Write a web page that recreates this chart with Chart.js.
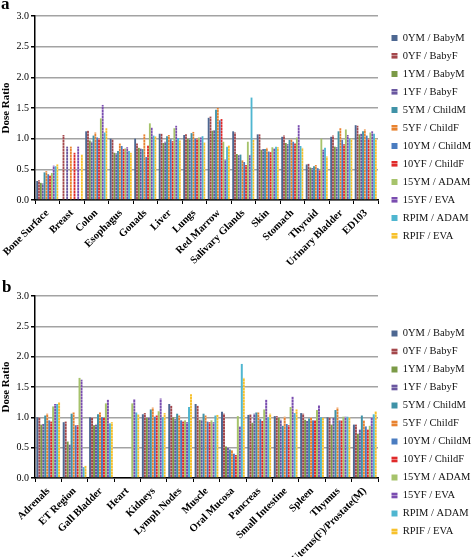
<!DOCTYPE html>
<html><head><meta charset="utf-8">
<script src="https://cdn.jsdelivr.net/npm/chart.js@4.4.1/dist/chart.umd.min.js"></script>
<style>
html,body{margin:0;padding:0;background:#fff;}
#wrap{position:relative;width:472px;height:557px;overflow:hidden;background:#fff;}
.panel{position:absolute;left:0;width:472px;}
#pa{top:0;height:278px;}
#pb{top:278px;height:279px;}
.lab{position:absolute;font-family:'Liberation Serif',serif;font-weight:bold;font-size:17px;line-height:1;color:#000;}
</style></head><body>
<div id="wrap">
<div class="panel" id="pa"><canvas id="ca" width="472" height="278"></canvas></div>
<div class="panel" id="pb"><canvas id="cb" width="472" height="279"></canvas></div>
<div class="lab" style="left:1px;top:-5px;">a</div>
<div class="lab" style="left:2px;top:278px;">b</div>
</div>
<script>
// Series (order in each group)
const seriesNames = ['0YM / BabyM','0YF / BabyF','1YM / BabyM','1YF / BabyF','5YM / ChildM','5YF / ChildF',
  '10YM / ChildM','10YF / ChildF','15YM / ADAM','15YF / EVA','RPIM / ADAM','RPIF / EVA'];
const seriesColors = ['#4d6791','#a4474b','#7b9a47','#6a57a0','#3f92a7','#e8822f',
  '#4a7cc0','#e02a2a','#a6c36b','#7a4db0','#4fb6d0','#f7c12c'];
const seriesPatterned = [false,true,false,true,false,true,false,true,false,true,false,true];

// Panel a
const categoriesA = ['Bone Surface','Breast','Colon','Esophagus','Gonads','Liver','Lungs','Red Marrow',
  'Salivary Glands','Skin','Stomach','Thyroid','Urinary Bladder','ED103'];
const boneSurface    = [0.31,0.32,0.28,0.27,0.45,0.47,0.42,0.40,0.44,0.56,0.55,0.58];
const breast         = [null,1.06,null,0.87,null,0.87,null,0.77,null,0.87,null,0.74];
const colon          = [1.12,1.13,0.97,0.95,1.05,1.10,1.02,1.00,1.33,1.55,1.10,1.17];
const esophagus      = [1.00,0.99,0.77,0.76,0.80,0.92,0.88,0.83,0.84,0.86,0.80,0.77];
const gonads         = [1.00,0.92,0.85,0.84,0.83,1.07,0.70,0.89,1.25,1.18,1.05,1.04];
const liver          = [1.08,1.08,0.93,0.95,1.04,1.06,0.99,0.96,1.17,1.21,1.01,0.97];
const lungs          = [1.06,1.07,1.00,1.00,1.09,1.11,1.00,1.00,1.02,1.02,1.04,0.94];
const redMarrow      = [1.34,1.36,1.13,1.14,1.47,1.50,1.30,1.32,0.95,0.66,0.87,0.89];
const salivaryGlands = [1.12,1.10,0.75,0.73,0.74,0.65,0.62,0.57,0.95,0.73,1.67,0.98];
const skin           = [1.07,1.07,0.82,0.83,0.83,0.85,0.79,0.78,0.86,0.84,0.87,0.86];
const stomach        = [1.03,1.05,0.93,0.91,0.98,0.99,0.95,0.92,1.02,1.22,0.88,0.85];
const thyroid        = [0.58,0.59,0.53,0.52,0.55,0.57,0.52,0.48,1.00,0.82,0.85,0.71];
const urinaryBladder = [1.03,1.05,0.87,0.86,1.12,1.17,0.98,0.91,1.15,1.06,1.00,1.00];
const ed103          = [1.22,1.21,1.07,1.08,1.12,1.15,1.05,1.00,1.10,1.12,1.08,1.00];
const rowsA = [boneSurface,breast,colon,esophagus,gonads,liver,lungs,redMarrow,salivaryGlands,skin,stomach,thyroid,urinaryBladder,ed103];

// Panel b
const categoriesB = ['Adrenals','ET Region','Gall Bladder','Heart','Kidneys','Lymph Nodes','Muscle','Oral Mucosa',
  'Pancreas','Small Intestine','Spleen','Thymus','Uterus(F)/Prostate(M)'];
const adrenals       = [1.00,1.00,0.88,0.89,1.03,1.06,0.95,0.93,1.18,1.22,1.22,1.25];
const etRegion       = [0.92,0.93,0.60,0.55,1.06,1.08,0.87,0.87,1.65,1.62,0.18,0.20];
const gallBladder    = [1.00,1.00,0.87,0.88,1.05,1.08,1.00,0.99,1.23,1.29,0.90,0.92];
const heart          = [null,null,null,null,null,null,null,null,1.23,1.30,1.08,1.05];
const kidneys        = [1.05,1.07,0.99,1.00,1.13,1.16,1.01,1.03,1.10,1.31,1.00,1.07];
const lymphNodes     = [1.22,1.19,1.00,0.97,1.06,1.03,0.95,0.93,0.95,0.92,1.17,1.38];
const muscle         = [1.22,1.19,0.96,0.96,1.06,1.03,0.93,0.92,0.95,0.92,1.03,1.04];
const oralMucosa     = [1.09,1.06,0.52,0.51,0.47,0.46,0.40,0.38,1.02,0.85,1.88,1.65];
const pancreas       = [1.04,1.05,0.91,1.06,1.08,1.08,0.97,0.94,1.13,1.29,1.00,1.06];
const smallIntestine = [1.02,1.02,0.99,0.96,0.86,1.01,0.89,0.87,1.17,1.34,1.07,1.13];
const spleen         = [1.07,1.06,0.96,0.94,0.98,1.00,0.95,0.95,1.12,1.20,1.00,0.99];
const thymus         = [1.00,1.00,0.88,0.99,1.12,1.16,0.95,0.95,1.01,1.01,1.01,1.00];
const uterusProstate = [0.88,0.88,0.73,0.80,1.03,0.95,0.85,0.80,0.86,1.00,1.05,1.10];
const rowsB = [adrenals,etRegion,gallBladder,heart,kidneys,lymphNodes,muscle,oralMucosa,pancreas,smallIntestine,spleen,thymus,uterusProstate];

const yTicks = [0,0.5,1.0,1.5,2.0,2.5,3.0];

const FONT = "'Liberation Serif', 'Times New Roman', serif";

function makePattern(color){
  const c = document.createElement('canvas'); c.width = 2; c.height = 3;
  const x = c.getContext('2d');
  x.fillStyle = color; x.fillRect(0,0,2,3);
  x.fillStyle = 'rgba(255,255,255,0.4)'; x.fillRect(0,1,2,1);
  return x.createPattern(c,'repeat');
}

function legendShift(dx, dy){
  return { id:'legendShift', afterLayout(chart){
    const l = chart.legend; if(!l) return;
    l.left += dx; l.right += dx; l.top += dy; l.bottom += dy;
  }};
}

function build(canvasId, categories, rows, padTop, xHeight, dy){
  const datasets = seriesNames.map((name,i)=>({
    label: name,
    data: rows.map(r=>r[i]),
    backgroundColor: seriesPatterned[i] ? makePattern(seriesColors[i]) : seriesColors[i],
    borderWidth: 0,
    categoryPercentage: 0.9,
    barPercentage: 1.0
  }));
  return new Chart(document.getElementById(canvasId), {
    type:'bar',
    data:{labels:categories, datasets},
    options:{
      responsive:false, animation:false, devicePixelRatio:1,
      layout:{autoPadding:false, padding:{top:padTop,left:0,right:0,bottom:0}},
      plugins:{
        legend:{position:'right', align:'center', maxWidth:94,
          labels:{boxWidth:6, boxHeight:6, padding:7.5, color:'#111', font:{family:FONT, size:10.5}}},
        tooltip:{enabled:false}
      },
      scales:{
        x:{
          grid:{display:true, drawOnChartArea:false, drawTicks:true, tickLength:4, color:'#000', offset:true},
          border:{color:'#000', width:1.5},
          ticks:{autoSkip:false, maxRotation:45, minRotation:45, padding:3, color:'#000',
            font:{family:FONT, size:10.5, weight:'bold'}},
          afterFit(s){ s.height = xHeight; s.paddingLeft = 0; s.paddingRight = 0; }
        },
        y:{
          min:0, max:3,
          afterBuildTicks(s){ s.ticks = yTicks.map(v=>({value:v})); },
          grid:{color:'#a3a3a3', lineWidth:1.5, tickColor:'#000', tickLength:4},
          border:{color:'#000', width:1.5},
          ticks:{padding:2, color:'#000', font:{family:FONT, size:10}, callback:v=>Number(v).toFixed(1)},
          title:{display:true, text:'Dose Ratio', color:'#000', padding:{top:0,bottom:1}, font:{family:FONT, size:11, weight:'bold'}},
          afterFit(s){ s.width = 35; }
        }
      }
    },
    plugins:[legendShift(6, dy)]
  });
}

build('ca', categoriesA, rowsA, 16, 78, -10);
build('cb', categoriesB, rowsB, 18, 79, 6);
</script>
</body></html>
